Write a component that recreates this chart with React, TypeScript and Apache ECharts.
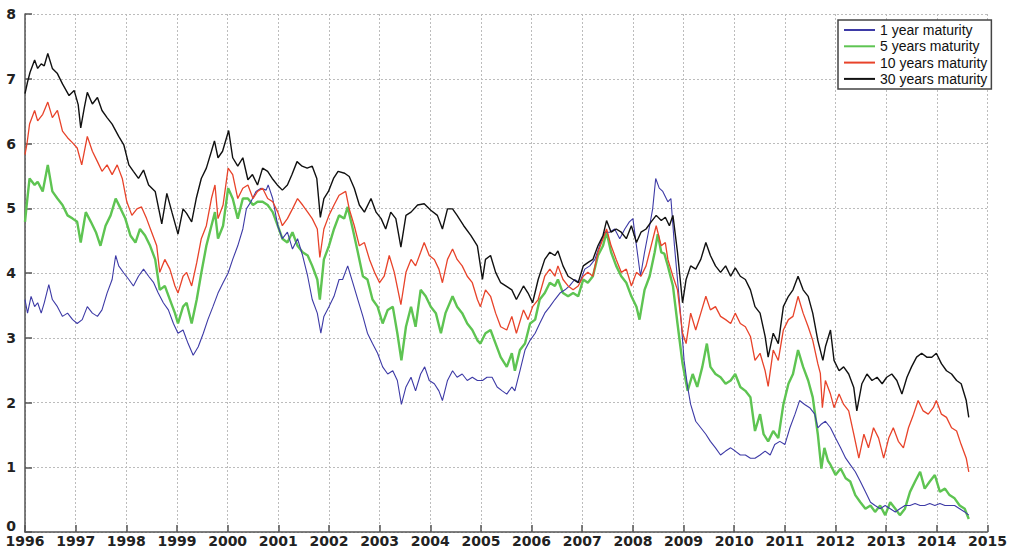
import React, { useEffect, useRef } from "react";
import * as echarts from "echarts";

const seriesNames = ["1 year maturity", "5 years maturity", "10 years maturity", "30 years maturity"];
const seriesColors = ["#3d3aa6", "#5ec452", "#e8432a", "#111111"];

// [decimal year, yield %]
const yield1y: [number, number][] = [
  [1996.00,3.59],[1996.05,3.38],[1996.12,3.64],[1996.19,3.48],[1996.25,3.54],[1996.32,3.38],[1996.38,3.54],[1996.47,3.82],[1996.54,3.59],[1996.64,3.48],[1996.74,3.33],[1996.84,3.38],[1996.94,3.28],[1997.03,3.22],[1997.13,3.28],[1997.23,3.48],[1997.33,3.38],[1997.43,3.33],[1997.52,3.43],[1997.62,3.69],[1997.72,3.90],[1997.79,4.27],[1997.85,4.11],[1997.95,4.00],[1998.05,3.90],[1998.14,3.80],[1998.24,3.95],[1998.34,4.06],[1998.44,3.95],[1998.54,3.85],[1998.63,3.69],[1998.73,3.54],[1998.83,3.43],[1998.93,3.22],[1999.02,3.07],[1999.12,3.12],[1999.22,2.91],[1999.32,2.73],[1999.42,2.86],[1999.52,3.07],[1999.61,3.28],[1999.71,3.48],[1999.81,3.69],[1999.91,3.85],[2000.01,4.00],[2000.10,4.21],[2000.20,4.42],[2000.30,4.68],[2000.37,4.99],[2000.46,5.10],[2000.56,5.26],[2000.66,5.31],[2000.76,5.28],[2000.80,5.36],[2000.89,5.15],[2000.99,4.73],[2001.08,4.53],[2001.18,4.63],[2001.28,4.37],[2001.38,4.53],[2001.48,4.27],[2001.58,3.95],[2001.67,3.59],[2001.77,3.38],[2001.84,3.07],[2001.90,3.33],[2002.00,3.48],[2002.10,3.64],[2002.20,3.90],[2002.27,3.90],[2002.37,4.11],[2002.47,3.85],[2002.57,3.59],[2002.67,3.33],[2002.76,3.07],[2002.86,2.91],[2002.96,2.76],[2003.06,2.55],[2003.16,2.44],[2003.26,2.49],[2003.35,2.34],[2003.43,1.97],[2003.52,2.24],[2003.62,2.39],[2003.71,2.18],[2003.81,2.44],[2003.89,2.55],[2003.98,2.34],[2004.08,2.29],[2004.17,2.18],[2004.24,2.03],[2004.34,2.34],[2004.44,2.49],[2004.53,2.39],[2004.63,2.44],[2004.73,2.34],[2004.83,2.39],[2004.93,2.34],[2005.03,2.34],[2005.12,2.39],[2005.22,2.39],[2005.32,2.24],[2005.42,2.18],[2005.51,2.13],[2005.61,2.24],[2005.67,2.18],[2005.77,2.49],[2005.87,2.81],[2005.97,2.96],[2006.07,3.07],[2006.16,3.22],[2006.26,3.38],[2006.36,3.48],[2006.46,3.59],[2006.56,3.69],[2006.66,3.74],[2006.75,3.80],[2006.85,3.90],[2006.95,3.85],[2007.05,4.06],[2007.15,4.11],[2007.25,4.21],[2007.34,4.42],[2007.44,4.63],[2007.54,4.63],[2007.64,4.68],[2007.74,4.53],[2007.84,4.68],[2007.93,4.79],[2008.00,4.84],[2008.07,4.42],[2008.15,3.95],[2008.23,4.32],[2008.33,4.73],[2008.39,4.99],[2008.45,5.46],[2008.52,5.31],[2008.59,5.26],[2008.69,5.10],[2008.75,5.15],[2008.82,4.42],[2008.88,3.90],[2008.95,3.28],[2009.01,2.65],[2009.08,2.24],[2009.14,1.97],[2009.24,1.71],[2009.34,1.61],[2009.44,1.51],[2009.53,1.40],[2009.63,1.30],[2009.73,1.19],[2009.83,1.25],[2009.93,1.30],[2010.02,1.25],[2010.12,1.19],[2010.22,1.19],[2010.32,1.14],[2010.41,1.14],[2010.51,1.19],[2010.61,1.25],[2010.71,1.19],[2010.80,1.35],[2010.90,1.40],[2011.00,1.35],[2011.10,1.61],[2011.20,1.82],[2011.29,2.03],[2011.39,1.97],[2011.49,1.92],[2011.59,1.82],[2011.65,1.61],[2011.71,1.66],[2011.80,1.71],[2011.90,1.61],[2012.00,1.45],[2012.10,1.30],[2012.20,1.14],[2012.29,1.04],[2012.39,0.93],[2012.49,0.78],[2012.59,0.62],[2012.69,0.46],[2012.78,0.41],[2012.88,0.36],[2012.98,0.41],[2013.08,0.36],[2013.18,0.31],[2013.27,0.36],[2013.37,0.41],[2013.47,0.41],[2013.57,0.44],[2013.67,0.41],[2013.76,0.41],[2013.86,0.44],[2013.96,0.41],[2014.06,0.44],[2014.16,0.41],[2014.25,0.41],[2014.35,0.41],[2014.45,0.36],[2014.55,0.31],[2014.63,0.26],
];

const yield5y: [number, number][] = [
  [1996.00,4.79],[1996.04,5.10],[1996.09,5.46],[1996.19,5.36],[1996.25,5.41],[1996.35,5.26],[1996.45,5.67],[1996.54,5.26],[1996.64,5.15],[1996.74,5.05],[1996.84,4.89],[1996.94,4.84],[1997.03,4.79],[1997.10,4.47],[1997.20,4.94],[1997.30,4.79],[1997.40,4.63],[1997.49,4.42],[1997.59,4.73],[1997.69,4.89],[1997.79,5.15],[1997.89,4.99],[1997.98,4.84],[1998.08,4.58],[1998.18,4.47],[1998.27,4.68],[1998.37,4.58],[1998.47,4.42],[1998.57,4.21],[1998.66,3.74],[1998.76,3.80],[1998.86,3.59],[1998.96,3.38],[1999.02,3.22],[1999.12,3.48],[1999.19,3.54],[1999.29,3.22],[1999.39,3.59],[1999.48,4.00],[1999.58,4.42],[1999.68,4.73],[1999.75,4.94],[1999.81,4.53],[1999.91,4.73],[2000.01,5.31],[2000.10,5.15],[2000.20,4.84],[2000.30,5.15],[2000.40,5.15],[2000.50,5.05],[2000.59,5.10],[2000.69,5.10],[2000.79,5.05],[2000.89,4.94],[2000.99,4.73],[2001.08,4.53],[2001.18,4.47],[2001.28,4.63],[2001.38,4.42],[2001.48,4.32],[2001.58,4.27],[2001.67,4.11],[2001.77,3.90],[2001.82,3.59],[2001.90,4.21],[2002.00,4.42],[2002.10,4.68],[2002.20,4.89],[2002.30,4.84],[2002.37,5.02],[2002.47,4.68],[2002.57,4.32],[2002.67,3.95],[2002.76,3.90],[2002.86,3.59],[2002.96,3.48],[2003.06,3.22],[2003.16,3.43],[2003.26,3.48],[2003.35,3.07],[2003.43,2.65],[2003.52,3.17],[2003.62,3.48],[2003.71,3.17],[2003.81,3.74],[2003.91,3.64],[2004.01,3.48],[2004.11,3.38],[2004.21,3.07],[2004.30,3.38],[2004.44,3.64],[2004.53,3.48],[2004.63,3.38],[2004.73,3.22],[2004.83,3.12],[2004.93,2.96],[2004.99,2.91],[2005.09,3.07],[2005.19,3.12],[2005.29,2.91],[2005.39,2.70],[2005.51,2.55],[2005.61,2.76],[2005.67,2.49],[2005.77,2.81],[2005.87,2.91],[2005.97,3.22],[2006.07,3.28],[2006.16,3.59],[2006.26,3.69],[2006.36,3.85],[2006.46,3.80],[2006.52,3.90],[2006.62,3.69],[2006.72,3.64],[2006.82,3.69],[2006.92,3.64],[2007.02,3.90],[2007.11,3.85],[2007.21,3.95],[2007.31,4.27],[2007.41,4.42],[2007.48,4.63],[2007.57,4.32],[2007.67,4.11],[2007.77,3.95],[2007.87,3.85],[2007.97,3.64],[2008.07,3.48],[2008.13,3.28],[2008.23,3.74],[2008.33,3.95],[2008.43,4.32],[2008.49,4.60],[2008.56,4.32],[2008.62,4.30],[2008.69,4.11],[2008.79,3.80],[2008.88,3.22],[2008.98,2.60],[2009.08,2.18],[2009.18,2.44],[2009.27,2.24],[2009.37,2.55],[2009.46,2.91],[2009.53,2.55],[2009.63,2.44],[2009.73,2.39],[2009.83,2.29],[2009.93,2.34],[2010.02,2.44],[2010.12,2.24],[2010.22,2.18],[2010.32,2.08],[2010.41,1.56],[2010.51,1.82],[2010.58,1.51],[2010.67,1.40],[2010.77,1.56],[2010.87,1.45],[2010.97,1.97],[2011.07,2.29],[2011.16,2.44],[2011.26,2.81],[2011.36,2.55],[2011.46,2.34],[2011.55,2.08],[2011.65,1.51],[2011.72,0.98],[2011.78,1.30],[2011.85,1.10],[2011.90,1.04],[2012.00,0.88],[2012.10,0.98],[2012.20,0.83],[2012.29,0.78],[2012.39,0.57],[2012.49,0.46],[2012.59,0.36],[2012.69,0.41],[2012.78,0.31],[2012.88,0.41],[2012.98,0.26],[2013.08,0.46],[2013.18,0.36],[2013.27,0.26],[2013.37,0.36],[2013.47,0.62],[2013.57,0.78],[2013.67,0.93],[2013.76,0.67],[2013.86,0.78],[2013.96,0.88],[2014.06,0.62],[2014.16,0.67],[2014.25,0.57],[2014.35,0.52],[2014.45,0.41],[2014.55,0.36],[2014.63,0.20],
];

const yield10y: [number, number][] = [
  [1996.00,5.83],[1996.04,6.00],[1996.09,6.30],[1996.19,6.51],[1996.25,6.35],[1996.35,6.45],[1996.45,6.64],[1996.54,6.40],[1996.64,6.51],[1996.74,6.19],[1996.84,6.09],[1996.94,6.01],[1997.03,5.93],[1997.12,5.67],[1997.23,6.11],[1997.33,5.88],[1997.43,5.72],[1997.52,5.57],[1997.62,5.67],[1997.72,5.52],[1997.82,5.67],[1997.92,5.46],[1998.01,5.10],[1998.11,4.89],[1998.21,4.99],[1998.30,5.02],[1998.40,4.84],[1998.50,4.63],[1998.60,4.42],[1998.66,4.01],[1998.76,4.21],[1998.86,4.06],[1998.96,3.80],[1999.02,3.69],[1999.12,3.95],[1999.19,4.01],[1999.29,3.80],[1999.39,4.16],[1999.48,4.53],[1999.58,4.73],[1999.68,5.15],[1999.75,5.36],[1999.81,4.84],[1999.91,5.05],[2000.01,5.62],[2000.10,5.52],[2000.20,5.15],[2000.30,5.31],[2000.40,5.36],[2000.50,5.15],[2000.59,5.26],[2000.69,5.31],[2000.79,5.15],[2000.89,5.10],[2000.99,4.94],[2001.08,4.73],[2001.18,4.84],[2001.28,4.99],[2001.38,5.15],[2001.48,5.05],[2001.58,4.94],[2001.67,4.84],[2001.77,4.68],[2001.82,4.24],[2001.90,4.68],[2002.00,4.89],[2002.10,5.05],[2002.20,5.20],[2002.33,5.26],[2002.40,4.99],[2002.50,4.73],[2002.60,4.42],[2002.70,4.47],[2002.80,4.21],[2002.90,4.01],[2003.00,3.85],[2003.09,3.95],[2003.19,4.27],[2003.29,4.01],[2003.42,3.51],[2003.52,4.01],[2003.62,4.21],[2003.71,4.11],[2003.81,4.32],[2003.88,4.47],[2003.98,4.27],[2004.08,4.21],[2004.17,4.06],[2004.24,3.85],[2004.34,4.21],[2004.44,4.37],[2004.53,4.21],[2004.63,4.11],[2004.73,3.95],[2004.83,3.85],[2004.93,3.59],[2004.99,3.48],[2005.09,3.74],[2005.19,3.64],[2005.29,3.38],[2005.39,3.17],[2005.51,3.12],[2005.61,3.33],[2005.70,3.07],[2005.84,3.43],[2005.93,3.28],[2006.02,3.48],[2006.13,3.59],[2006.26,3.95],[2006.36,4.06],[2006.46,3.95],[2006.52,4.11],[2006.62,3.90],[2006.72,3.80],[2006.82,3.74],[2006.92,3.80],[2007.02,3.95],[2007.11,4.01],[2007.21,3.95],[2007.31,4.32],[2007.41,4.53],[2007.48,4.68],[2007.57,4.42],[2007.67,4.21],[2007.77,4.01],[2007.87,4.06],[2007.97,3.80],[2008.07,4.01],[2008.16,3.95],[2008.26,4.11],[2008.36,4.42],[2008.46,4.73],[2008.56,4.42],[2008.64,4.47],[2008.69,4.21],[2008.79,3.95],[2008.88,3.74],[2008.98,3.07],[2009.05,2.91],[2009.14,3.38],[2009.24,3.12],[2009.34,3.38],[2009.44,3.64],[2009.53,3.43],[2009.63,3.48],[2009.73,3.33],[2009.83,3.28],[2009.93,3.22],[2010.02,3.38],[2010.12,3.22],[2010.22,3.17],[2010.32,3.02],[2010.41,2.65],[2010.51,2.76],[2010.61,2.49],[2010.67,2.25],[2010.77,2.81],[2010.87,2.65],[2010.97,3.12],[2011.07,3.28],[2011.16,3.33],[2011.26,3.64],[2011.36,3.38],[2011.46,3.17],[2011.55,2.96],[2011.65,2.60],[2011.70,2.45],[2011.74,1.92],[2011.80,2.34],[2011.90,2.13],[2011.97,1.92],[2012.07,2.13],[2012.16,1.97],[2012.26,1.87],[2012.36,1.51],[2012.46,1.14],[2012.56,1.51],[2012.65,1.30],[2012.75,1.61],[2012.85,1.45],[2012.95,1.14],[2013.05,1.45],[2013.14,1.61],[2013.24,1.40],[2013.34,1.30],[2013.44,1.61],[2013.54,1.82],[2013.63,2.03],[2013.73,1.87],[2013.83,1.82],[2013.93,1.92],[2013.99,2.03],[2014.09,1.82],[2014.19,1.77],[2014.29,1.61],[2014.39,1.56],[2014.48,1.35],[2014.58,1.14],[2014.63,0.93],
];

const yield30y: [number, number][] = [
  [1996.00,6.77],[1996.05,6.95],[1996.10,7.10],[1996.19,7.29],[1996.25,7.16],[1996.32,7.23],[1996.38,7.20],[1996.45,7.39],[1996.54,7.16],[1996.64,7.08],[1996.74,6.92],[1996.87,6.74],[1996.97,6.82],[1997.05,6.60],[1997.10,6.24],[1997.17,6.55],[1997.23,6.79],[1997.33,6.61],[1997.43,6.71],[1997.52,6.51],[1997.62,6.40],[1997.72,6.30],[1997.85,6.11],[1997.95,5.98],[1998.05,5.67],[1998.14,5.57],[1998.24,5.46],[1998.34,5.59],[1998.44,5.36],[1998.57,5.26],[1998.70,4.76],[1998.80,5.23],[1998.90,4.94],[1999.02,4.60],[1999.12,4.99],[1999.19,4.92],[1999.29,4.79],[1999.38,5.15],[1999.48,5.46],[1999.58,5.62],[1999.68,5.88],[1999.74,6.04],[1999.81,5.78],[1999.90,5.88],[2000.02,6.20],[2000.10,5.78],[2000.20,5.65],[2000.30,5.78],[2000.40,5.44],[2000.49,5.52],[2000.59,5.36],[2000.69,5.62],[2000.79,5.57],[2000.88,5.46],[2000.98,5.36],[2001.08,5.28],[2001.18,5.36],[2001.27,5.52],[2001.37,5.72],[2001.47,5.65],[2001.57,5.62],[2001.67,5.65],[2001.76,5.46],[2001.83,4.86],[2001.90,5.15],[2001.99,5.26],[2002.09,5.46],[2002.18,5.57],[2002.31,5.54],[2002.40,5.49],[2002.50,5.31],[2002.60,5.05],[2002.70,4.94],[2002.83,5.15],[2002.93,4.94],[2003.03,4.84],[2003.12,4.68],[2003.22,4.94],[2003.32,4.84],[2003.42,4.40],[2003.52,4.89],[2003.62,4.94],[2003.75,5.05],[2003.88,5.07],[2004.01,4.97],[2004.14,4.89],[2004.24,4.68],[2004.34,4.99],[2004.44,4.99],[2004.53,4.89],[2004.66,4.73],[2004.80,4.58],[2004.93,4.42],[2005.03,3.90],[2005.09,4.21],[2005.19,4.27],[2005.29,4.01],[2005.39,3.85],[2005.49,3.80],[2005.61,3.74],[2005.70,3.59],[2005.84,3.80],[2005.93,3.69],[2006.02,3.54],[2006.13,3.90],[2006.26,4.21],[2006.36,4.32],[2006.46,4.27],[2006.52,4.34],[2006.62,4.11],[2006.72,3.95],[2006.82,3.90],[2006.92,3.85],[2007.02,4.11],[2007.11,4.16],[2007.21,4.21],[2007.31,4.42],[2007.41,4.58],[2007.48,4.81],[2007.57,4.63],[2007.67,4.68],[2007.77,4.63],[2007.87,4.53],[2007.97,4.73],[2008.07,4.47],[2008.16,4.63],[2008.26,4.68],[2008.36,4.79],[2008.46,4.89],[2008.56,4.81],[2008.64,4.86],[2008.72,4.73],[2008.79,4.89],[2008.88,4.32],[2008.98,3.54],[2009.05,3.90],[2009.14,4.11],[2009.24,4.06],[2009.34,4.21],[2009.44,4.47],[2009.53,4.27],[2009.63,4.11],[2009.73,4.01],[2009.83,4.11],[2009.93,3.95],[2010.02,4.08],[2010.12,3.95],[2010.22,3.90],[2010.32,3.74],[2010.41,3.48],[2010.51,3.38],[2010.61,3.02],[2010.67,2.70],[2010.77,3.07],[2010.87,2.91],[2010.97,3.48],[2011.07,3.64],[2011.16,3.74],[2011.26,3.95],[2011.36,3.74],[2011.46,3.64],[2011.55,3.38],[2011.65,2.96],[2011.75,2.65],[2011.80,2.86],[2011.90,3.12],[2011.97,2.65],[2012.07,2.49],[2012.16,2.55],[2012.26,2.44],[2012.36,2.23],[2012.42,1.87],[2012.52,2.29],[2012.62,2.44],[2012.72,2.34],[2012.82,2.39],[2012.92,2.29],[2013.01,2.39],[2013.11,2.44],[2013.21,2.34],[2013.31,2.13],[2013.41,2.39],[2013.50,2.55],[2013.60,2.70],[2013.70,2.76],[2013.80,2.70],[2013.90,2.70],[2013.99,2.76],[2014.09,2.60],[2014.19,2.49],[2014.29,2.44],[2014.39,2.34],[2014.48,2.29],[2014.58,2.03],[2014.63,1.77],
];

const seriesData = [yield1y, yield5y, yield10y, yield30y];
const seriesWidths = [1.1, 2.4, 1.3, 1.4];
const drawOrder = [1, 0, 2, 3];

export default function App() {
  const ref = useRef<HTMLDivElement>(null);
  useEffect(() => {
    const chart = echarts.init(ref.current!, null, { renderer: "svg" });
    const axisColor = "#555";
    const splitLine = { show: true, lineStyle: { type: [2, 2], color: "#bcbcbc", width: 1 } };
    const labelStyle = {
      fontFamily: "DejaVu Sans",
      fontWeight: "bold" as const,
      fontSize: 14,
      color: "#222",
    };
    chart.setOption({
      animation: false,
      backgroundColor: "#ffffff",
      grid: { left: 25, right: 13, top: 14, bottom: 15, containLabel: false },
      xAxis: {
        type: "value",
        min: 1996,
        max: 2015,
        interval: 1,
        axisLine: { show: true, lineStyle: { color: axisColor, width: 1.5 } },
        axisTick: { show: true, inside: true, length: 7, lineStyle: { color: axisColor, width: 1.5 } },
        axisLabel: { ...labelStyle, margin: 2, formatter: (v: number) => String(v) },
        splitLine,
      },
      yAxis: {
        type: "value",
        min: 0,
        max: 8,
        interval: 1,
        axisLine: { show: true, lineStyle: { color: axisColor, width: 1.5 } },
        axisTick: { show: true, inside: true, length: 7, lineStyle: { color: axisColor, width: 1.5 } },
        axisLabel: {
          ...labelStyle,
          margin: 9,
          formatter: (v: number) => (v === 0 ? "{z|0}" : String(v)),
          rich: { z: { ...labelStyle, padding: [0, 0, 13, 0] } },
        },
        splitLine,
      },
      legend: {
        data: seriesNames,
        orient: "vertical",
        left: 838,
        top: 20,
        padding: [3, 4, 3, 5],
        itemWidth: 31,
        itemHeight: 14,
        itemGap: 2.3,
        borderColor: "#444",
        borderWidth: 1.5,
        borderRadius: 0,
        backgroundColor: "#ffffff",
        itemStyle: { opacity: 0 },
        textStyle: { fontFamily: "Liberation Sans", fontSize: 14, color: "#111" },
      },
      series: drawOrder.map((i) => ({
        name: seriesNames[i],
        type: "line",
        data: seriesData[i],
        showSymbol: false,
        symbol: "none",
        smooth: false,
        lineStyle: { color: seriesColors[i], width: seriesWidths[i] },
        itemStyle: { color: seriesColors[i] },
        z: 2 + drawOrder.indexOf(i),
      })),
    });
    return () => chart.dispose();
  }, []);
  return (
    <div
      ref={ref}
      style={{ position: "fixed", left: 0, top: 0, width: 1010, height: 548, background: "#fff" }}
    />
  );
}
